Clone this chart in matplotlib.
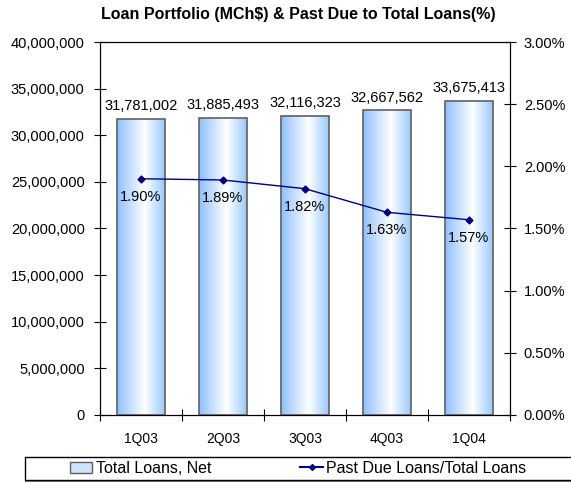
import matplotlib.pyplot as plt
import numpy as np
from matplotlib.colors import LinearSegmentedColormap
from matplotlib.patches import Rectangle, Patch
from matplotlib.lines import Line2D
from matplotlib.ticker import FuncFormatter

plt.rcParams['font.family'] = ['Liberation Sans', 'DejaVu Sans']
plt.rcParams['font.size'] = 10

quarters = ['1Q03', '2Q03', '3Q03', '4Q03', '1Q04']
loans = [31781002, 31885493, 32116323, 32667562, 33675413]
past_due = [1.90, 1.89, 1.82, 1.63, 1.57]

fig = plt.figure(figsize=(5.71, 4.83), dpi=100)
ax1 = fig.add_axes([0.175, 0.141, 0.718, 0.772])
ax2 = ax1.twinx()

x = np.arange(len(quarters))
w = 0.585
cmap = LinearSegmentedColormap.from_list('bar', [(0, '#8fc0ff'), (0.58, '#ffffff'), (1, '#99c8ff')])
grad = np.linspace(0, 1, 256).reshape(1, -1)
bars = ax1.bar(x, loans, width=w, facecolor='none', edgecolor='#606060', linewidth=1.2, zorder=3)
for b in bars:
    im = ax1.imshow(grad, cmap=cmap, aspect='auto', zorder=2,
                    extent=[b.get_x(), b.get_x() + b.get_width(), 0, b.get_height()])
    im.set_clip_path(b)
for xi, v in zip(x, loans):
    ax1.annotate(f'{v:,}', (xi, v), xytext=(0, 4), textcoords='offset points',
                 ha='center', va='bottom', fontsize=10.5)

ax1.set_xlim(-0.5, 4.5)
ax1.set_ylim(0, 40000000)
ax1.set_yticks(np.arange(0, 40000001, 5000000))
ax1.yaxis.set_major_formatter(FuncFormatter(lambda v, p: f'{int(v):,}'))
ax1.set_xticks(np.arange(-0.5, 4.6, 1))
ax1.set_xticklabels([])
ax1.set_xticks(x, minor=True)
ax1.set_xticklabels(quarters, minor=True)
ax1.tick_params(axis='x', which='minor', length=0, pad=12)
ax1.tick_params(axis='x', which='major', direction='inout', length=8)
ax1.tick_params(axis='y', direction='inout', length=8, pad=7, labelsize=10.5)

ax2.plot(x, past_due, color='#000080', marker='D', markersize=3.5, linewidth=1, zorder=5)
for xi, v in zip(x, past_due):
    ax2.annotate(f'{v:.2f}%', (xi, v), xytext=(0, -13), textcoords='offset points',
                 ha='center', va='center', fontsize=10.5)
ax2.set_ylim(0, 3)
ax2.set_yticks(np.arange(0, 3.01, 0.5))
ax2.yaxis.set_major_formatter(FuncFormatter(lambda v, p: f'{v:.2f}%'))
ax2.tick_params(axis='y', direction='inout', length=8, pad=6, labelsize=10.5)

fig.text(0.522, 0.969, 'Loan Portfolio (MCh$) & Past Due to Total Loans(%)',
         ha='center', va='center', fontsize=11.5, fontweight='bold')

# legend frame
fig.patches.append(Rectangle((25 / 571, 1.5 / 483), 560 / 571, 24 / 483, transform=fig.transFigure,
                             facecolor='#808080', edgecolor='none'))
fig.patches.append(Rectangle((25 / 571, 3 / 483), 560 / 571, 23 / 483, transform=fig.transFigure,
                             facecolor='white', edgecolor='black', linewidth=1))
handles = [Patch(facecolor='#cfe5ff', edgecolor='#606060', label='Total Loans, Net'),
           Line2D([], [], color='#000080', marker='D', markersize=3, label='Past Due Loans/Total Loans')]
fig.legend(handles=handles, loc='center', bbox_to_anchor=(0.522, 14.5 / 483), ncol=2,
           frameon=False, fontsize=11.5, columnspacing=5.6, handlelength=1.4, handletextpad=0.2,
           borderpad=0)

fig.savefig('out.png', dpi=100)
